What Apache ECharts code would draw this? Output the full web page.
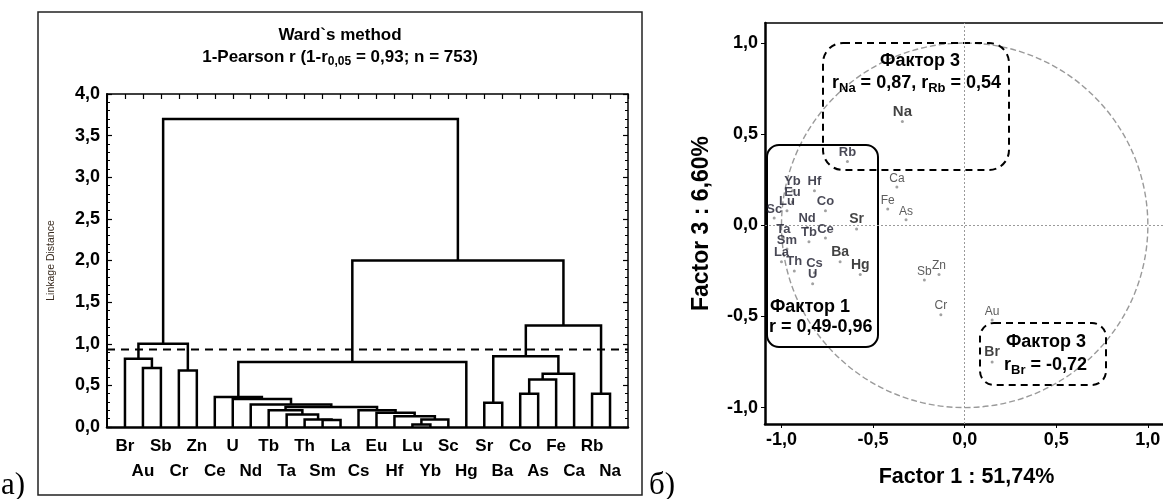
<!DOCTYPE html>
<html><head><meta charset="utf-8">
<script src="https://cdn.jsdelivr.net/npm/echarts@6/dist/echarts.min.js"></script>
<style>html,body{margin:0;padding:0;background:#fff}#c{width:1163px;height:499px}</style>
</head><body><div id="c"></div>
<script>
// ---------- Panel а: dendrogram (Ward's method, 1-Pearson r) ----------
const leaves = ['Br','Au','Sb','Cr','Zn','Ce','U','Nd','Tb','Ta','Th','Sm','La','Cs','Eu','Hf','Lu','Yb','Sc','Hg','Sr','Ba','Co','As','Fe','Ca','Rb','Na'];
// [newNode, left, right, linkage distance]
const merges = [
  ['A1','Au','Sb',0.71], ['A2','Br','A1',0.82], ['A3','Cr','Zn',0.68], ['A4','A2','A3',1.00],
  ['R1','Lu','Yb',0.03], ['R2','R1','Sc',0.09], ['R3','Hf','R2',0.13], ['R4','Eu','R3',0.17],
  ['R5','Cs','R4',0.20], ['R6','Sm','La',0.085], ['R7','Th','R6',0.09], ['R8','Ta','R7',0.15],
  ['R9','Tb','R8',0.20], ['R10','R9','R5',0.24], ['R11','Nd','R10',0.27], ['R12','U','R11',0.335],
  ['R13','Ce','R12',0.36], ['R14','R13','Hg',0.78],
  ['D1','Sr','Ba',0.29], ['D2','Co','As',0.40], ['D3','D2','Fe',0.57], ['D4','D3','Ca',0.64],
  ['D5','D1','D4',0.85], ['D6','Rb','Na',0.40], ['D7','D5','D6',1.22],
  ['B','R14','D7',2.00], ['Root','A4','B',3.70]
];
const threshold = 0.93;
const distTicks = [0, 4];   // y range

// ---------- Panel б: factor loadings ----------
const elems  = ['Na','Rb','Ca','Fe','As','Sr','Co','Hf','Yb','Eu','Lu','Sc','Nd','Ce','Ta','Tb','Sm','La','Th','Cs','U','Ba','Hg','Sb','Zn','Cr','Au','Br'];
const factor1 = [-0.34,-0.64,-0.37,-0.42,-0.32,-0.59,-0.76,-0.82,-0.94,-0.94,-0.97,-1.04,-0.86,-0.76,-0.99,-0.85,-0.97,-1.00,-0.93,-0.82,-0.83,-0.68,-0.57,-0.22,-0.14,-0.13,0.15,0.15];
const factor3 = [0.57,0.35,0.21,0.09,0.03,-0.02,0.08,0.19,0.19,0.13,0.08,0.04,-0.01,-0.07,-0.07,-0.09,-0.13,-0.20,-0.25,-0.26,-0.32,-0.20,-0.27,-0.30,-0.27,-0.49,-0.52,-0.75];
const loadTicks = [-1, -0.5, 0, 0.5, 1];

// styles
const FONT = "'Liberation Sans', Arial, sans-serif";
const bigBold = ['Na','Sr','Ba','Hg','Br'];
const thin = ['Ca','Fe','As','Sb','Zn','Cr','Au'];
const comma = v => (Math.abs(v) < 1e-9 ? 0 : v).toFixed(1).replace('.', ',');

// build segments from the linkage
const pos = {};
leaves.forEach((n, i) => pos[n] = {x: i, h: 0});
const segs = merges.map(([id, a, b, h]) => {
  const L = pos[a], R = pos[b];
  pos[id] = {x: (L.x + R.x) / 2, h: h};
  return [L.x, L.h, R.x, R.h, h];
});

const leafLabel = v => {
  const i = Math.round(v);
  if (i < 0 || i >= leaves.length) return '';
  return i % 2 ? '\n' + leaves[i] : leaves[i];
};

const pointData = elems.map((n, i) => {
  let lab;
  if (bigBold.includes(n)) lab = {fontSize: n === 'Na' ? 15 : 14, fontWeight: 'bold', color: '#111'};
  else if (thin.includes(n)) lab = {fontSize: 12, fontWeight: 'normal', color: '#333'};
  else lab = {fontSize: 13, fontWeight: 'bold', color: '#1a1a2a'};
  return {name: n, value: [factor1[i], factor3[i]], label: lab};
});

const chart = echarts.init(document.getElementById('c'));
chart.setOption({
  animation: false,
  backgroundColor: '#fff',
  grid: [
    {left: 107, top: 94, width: 521, height: 333, outerBoundsMode: 'none'},
    {left: 765, top: 23, width: 403, height: 401, outerBoundsMode: 'none'}
  ],
  xAxis: [
    {gridIndex: 0, type: 'value', min: -1, max: 28, interval: 1, position: 'bottom',
     axisLine: {show: true, onZero: false, lineStyle: {color: '#000', width: 2.5}},
     axisTick: {show: false}, splitLine: {show: false},
     axisLabel: {formatter: leafLabel, fontFamily: FONT, fontWeight: 'bold', fontSize: 17, color: '#000', lineHeight: 25, margin: 7}},
    {gridIndex: 0, type: 'value', min: -1, max: 28, interval: 1, position: 'top',
     axisLine: {show: true, onZero: false, lineStyle: {color: '#000', width: 1.5}},
     axisTick: {show: true, inside: true, length: 5, lineStyle: {color: '#000', width: 1.2}},
     axisLabel: {show: false}, splitLine: {show: false}},
    {gridIndex: 1, type: 'value', min: -1.09, max: 1.11, position: 'bottom',
     axisLine: {show: true, onZero: false, lineStyle: {color: '#000', width: 2.5}},
     axisTick: {show: true, length: 4, customValues: loadTicks, lineStyle: {color: '#000'}},
     splitLine: {show: false},
     axisLabel: {customValues: loadTicks, formatter: comma, fontFamily: FONT, fontWeight: 'bold', fontSize: 18, color: '#000', margin: 7},
     name: 'Factor 1 : 51,74%', nameLocation: 'middle', nameGap: 42,
     nameTextStyle: {fontFamily: FONT, fontWeight: 'bold', fontSize: 21.5, color: '#000'}},
    {gridIndex: 1, type: 'value', min: -1.09, max: 1.11, position: 'top',
     axisLine: {show: true, onZero: false, lineStyle: {color: '#000', width: 1.5}},
     axisTick: {show: false}, axisLabel: {show: false}, splitLine: {show: false}}
  ],
  yAxis: [
    {gridIndex: 0, type: 'value', min: distTicks[0], max: distTicks[1], interval: 0.5, position: 'left',
     axisLine: {show: true, onZero: false, lineStyle: {color: '#000', width: 2}},
     axisTick: {show: true, inside: true, length: 5, lineStyle: {color: '#000', width: 1.2}},
     minorTick: {show: true, splitNumber: 5, length: 3, lineStyle: {color: '#000', width: 1}},
     splitLine: {show: false}, minorSplitLine: {show: false},
     axisLabel: {formatter: comma, fontFamily: FONT, fontWeight: 'bold', fontSize: 18, color: '#000', margin: 7},
     name: 'Linkage Distance', nameLocation: 'middle', nameGap: 50,
     nameTextStyle: {fontFamily: FONT, fontSize: 10.5, color: '#3a2c20'}},
    {gridIndex: 0, type: 'value', min: distTicks[0], max: distTicks[1], interval: 0.5, position: 'right',
     axisLine: {show: true, onZero: false, lineStyle: {color: '#000', width: 1.5}},
     axisTick: {show: true, inside: true, length: 5, lineStyle: {color: '#000', width: 1.2}},
     minorTick: {show: true, splitNumber: 5, length: 3, lineStyle: {color: '#000', width: 1}},
     splitLine: {show: false}, axisLabel: {show: false}},
    {gridIndex: 1, type: 'value', min: -1.09, max: 1.11, position: 'left',
     axisLine: {show: true, onZero: false, lineStyle: {color: '#000', width: 2.5}},
     axisTick: {show: true, length: 4, customValues: loadTicks, lineStyle: {color: '#000'}},
     splitLine: {show: false},
     axisLabel: {customValues: loadTicks, formatter: comma, fontFamily: FONT, fontWeight: 'bold', fontSize: 18, color: '#000', margin: 7},
     name: 'Factor 3 : 6,60%', nameLocation: 'middle', nameGap: 52,
     nameTextStyle: {fontFamily: FONT, fontWeight: 'bold', fontSize: 23, color: '#000'}}
  ],
  series: [
    {type: 'custom', xAxisIndex: 0, yAxisIndex: 0, data: segs, encode: {x: [0, 2], y: [1, 3, 4]},
     silent: true, clip: false,
     renderItem: (params, api) => {
       const xl = api.value(0), hl = api.value(1), xr = api.value(2), hr = api.value(3), h = api.value(4);
       return {type: 'polyline',
         shape: {points: [api.coord([xl, hl]), api.coord([xl, h]), api.coord([xr, h]), api.coord([xr, hr])]},
         style: {stroke: '#000', lineWidth: 2.5, fill: null}};
     }},
    {type: 'line', xAxisIndex: 0, yAxisIndex: 0, data: [[-1, threshold], [28, threshold]],
     symbol: 'none', silent: true, lineStyle: {color: '#000', width: 2, type: [8, 6]}},
    {type: 'scatter', xAxisIndex: 2, yAxisIndex: 2, data: pointData, symbolSize: 3,
     itemStyle: {color: '#8a8a8a'}, silent: true, z: 5,
     label: {show: true, position: 'top', distance: 1, formatter: '{b}', fontFamily: FONT},
     markLine: {silent: true, symbol: 'none', label: {show: false},
       lineStyle: {color: '#9a9a9a', width: 1, type: [2, 2]},
       data: [{xAxis: 0}, {yAxis: 0}]}}
  ]
});

// circle of unit correlation + annotations
const c0 = chart.convertToPixel({xAxisIndex: 2, yAxisIndex: 2}, [0, 0]);
const c1 = chart.convertToPixel({xAxisIndex: 2, yAxisIndex: 2}, [1, 1]);
const B = {fontFamily: FONT, fontWeight: 'bold', fontSize: 18, fill: '#000'};
const rich = {n: {fontFamily: FONT, fontWeight: 'bold', fontSize: 18, lineHeight: 22},
              s: {fontFamily: FONT, fontWeight: 'bold', fontSize: 13, padding: [10, 0, 0, 0]}};
const richT = {n: {fontFamily: FONT, fontWeight: 'bold', fontSize: 17, lineHeight: 22},
              s: {fontFamily: FONT, fontWeight: 'bold', fontSize: 12, padding: [10, 0, 0, 0]}};
chart.setOption({graphic: {elements: [
  {type: 'rect', shape: {x: 38, y: 12, width: 604, height: 483}, style: {fill: 'transparent', stroke: '#222', lineWidth: 1.5}, z: 0},
  {type: 'text', x: 340, y: 35, style: {text: 'Ward`s method', fontFamily: FONT, fontWeight: 'bold', fontSize: 17, fill: '#000', align: 'center', verticalAlign: 'middle'}},
  {type: 'text', x: 340, y: 57, style: {text: '{n|1-Pearson r (1-r}{s|0,05}{n| = 0,93; n = 753)}', rich: richT, align: 'center', verticalAlign: 'middle', fill: '#000'}},
  {type: 'text', x: 1, y: 486, style: {text: 'а)', fontFamily: "'Liberation Serif', serif", fontSize: 31, fill: '#000', verticalAlign: 'middle'}},
  {type: 'text', x: 649, y: 486, style: {text: 'б)', fontFamily: "'Liberation Serif', serif", fontSize: 31, fill: '#000', verticalAlign: 'middle'}},
  {type: 'ellipse', shape: {cx: c0[0], cy: c0[1], rx: c1[0] - c0[0], ry: c0[1] - c1[1]},
   style: {fill: 'transparent', stroke: '#9a9a9a', lineWidth: 1.4, lineDash: [6, 3]}, z: 1},
  {type: 'rect', shape: {x: 823, y: 43, width: 186, height: 127, r: 20}, style: {fill: 'transparent', stroke: '#000', lineWidth: 2, lineDash: [7, 5]}, z: 3},
  {type: 'rect', shape: {x: 767, y: 145, width: 111, height: 202, r: 12}, style: {fill: 'transparent', stroke: '#000', lineWidth: 2}, z: 3},
  {type: 'rect', shape: {x: 980, y: 323, width: 126, height: 62, r: 14}, style: {fill: 'transparent', stroke: '#000', lineWidth: 2, lineDash: [7, 5]}, z: 3},
  {type: 'text', x: 920, y: 61, style: Object.assign({}, B, {text: 'Фактор 3', align: 'center', verticalAlign: 'middle'}), z: 4},
  {type: 'text', x: 832, y: 83, style: {text: '{n|r}{s|Na}{n| = 0,87, r}{s|Rb}{n| = 0,54}', rich: rich, align: 'left', verticalAlign: 'middle', fill: '#000'}, z: 4},
  {type: 'text', x: 770, y: 307, style: Object.assign({}, B, {text: 'Фактор 1', align: 'left', verticalAlign: 'middle'}), z: 4},
  {type: 'text', x: 769, y: 327, style: Object.assign({}, B, {text: 'r = 0,49-0,96', align: 'left', verticalAlign: 'middle'}), z: 4},
  {type: 'text', x: 1006, y: 342, style: Object.assign({}, B, {text: 'Фактор 3', align: 'left', verticalAlign: 'middle'}), z: 4},
  {type: 'text', x: 1004, y: 365, style: {text: '{n|r}{s|Br}{n| = -0,72}', rich: rich, align: 'left', verticalAlign: 'middle', fill: '#000'}, z: 4}
]}});
</script>
</body></html>
